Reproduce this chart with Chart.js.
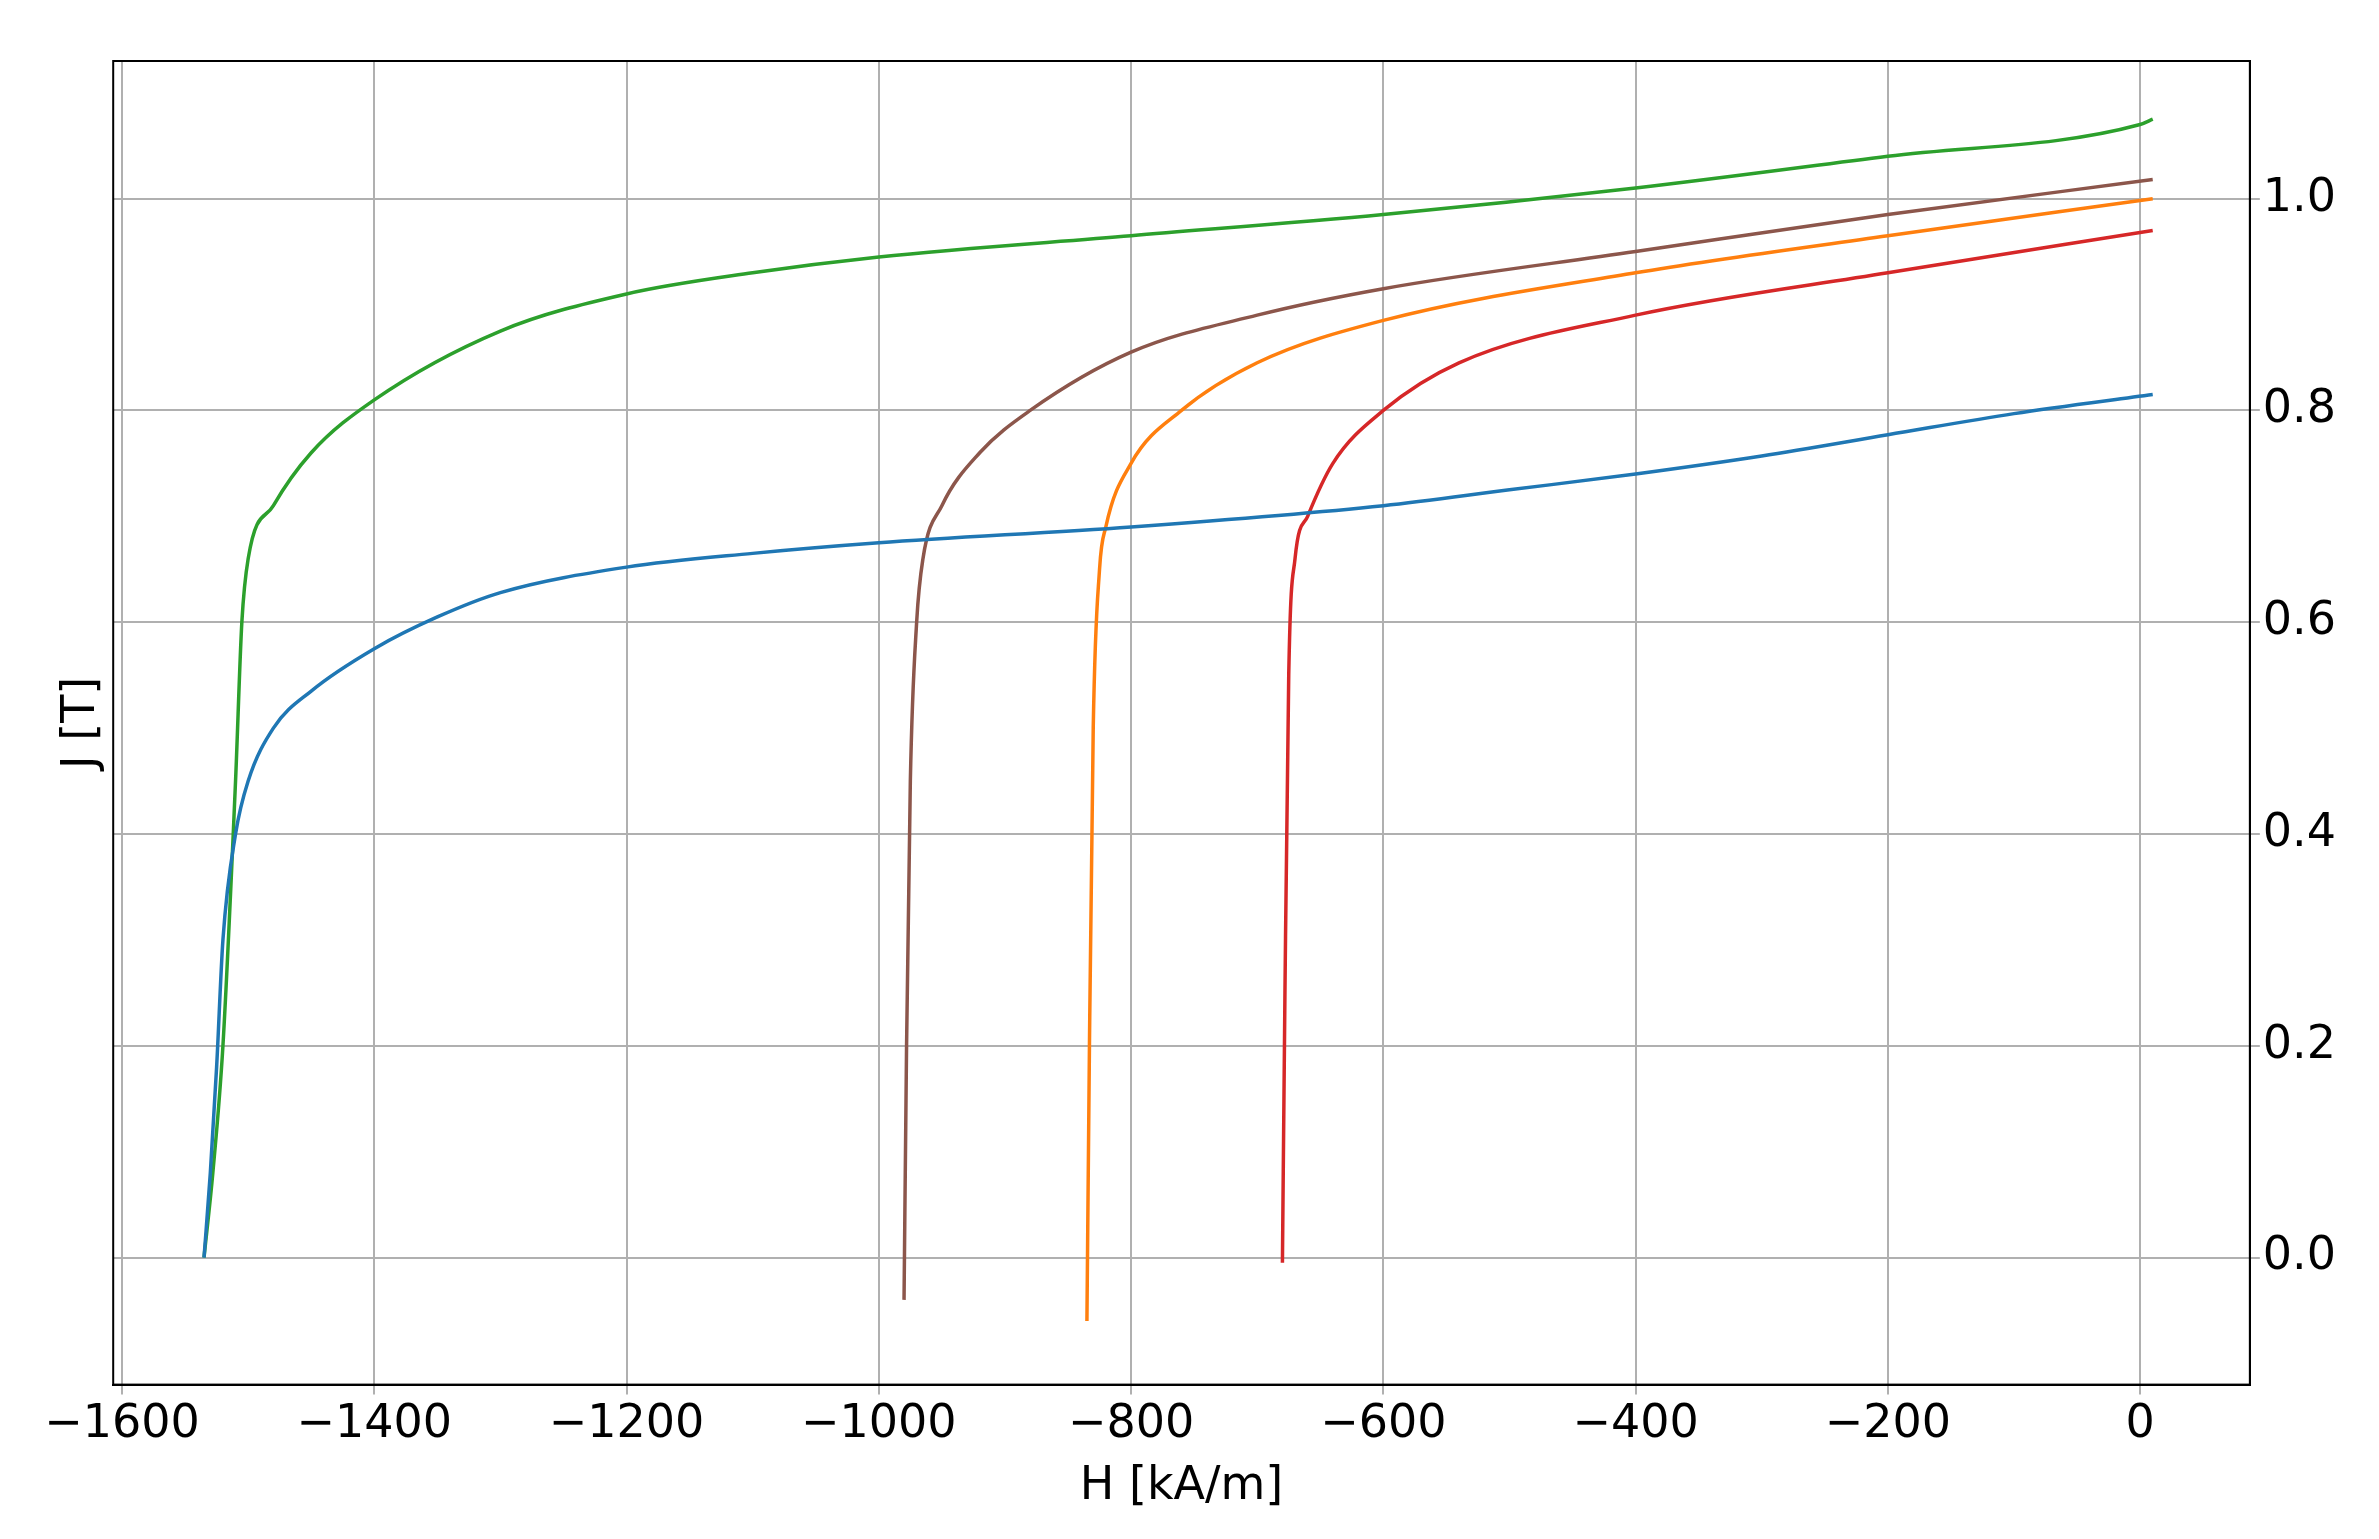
<!DOCTYPE html>
<html><head><meta charset="utf-8">
<script src="https://cdn.jsdelivr.net/npm/chart.js@4/dist/chart.umd.min.js"></script>
<style>body{margin:0;background:#fff}</style></head>
<body><canvas id="c" width="2379" height="1539"></canvas>
<script>
const blueH=[-1535,-1530,-1525,-1520,-1510,-1500,-1480,-1450,-1400,-1350,-1300,-1200,-1100,-1000,-800,-600,-500,-400,-300,-200,-100,10];
const blueJ=[0,0.08,0.18,0.3,0.4,0.45,0.5,0.535,0.575,0.605,0.628,0.652,0.665,0.675,0.69,0.71,0.725,0.74,0.757,0.777,0.797,0.815];
const greenH=[-1535,-1528,-1520,-1510,-1505,-1500,-1480,-1450,-1400,-1300,-1200,-1100,-1000,-800,-600,-400,-200,0,10];
const greenJ=[0,0.08,0.2,0.45,0.6,0.66,0.71,0.76,0.81,0.875,0.91,0.93,0.945,0.965,0.985,1.01,1.04,1.07,1.075];
const brownH=[-980,-978,-975,-970,-965,-950,-920,-880,-800,-700,-600,-400,-200,10];
const brownJ=[-0.04,0.2,0.45,0.6,0.66,0.71,0.76,0.80,0.855,0.89,0.915,0.95,0.985,1.018];
const orangeH=[-835,-833,-830,-825,-820,-800,-760,-700,-600,-400,-200,10];
const orangeJ=[-0.06,0.2,0.5,0.65,0.69,0.75,0.80,0.845,0.885,0.93,0.965,1.0];
const redH=[-680,-678,-675,-670,-660,-640,-600,-540,-400,-200,10];
const redJ=[-0.005,0.25,0.55,0.66,0.70,0.75,0.80,0.845,0.89,0.93,0.97];
const series=[[blueH,blueJ,'#1f77b4'],[greenH,greenJ,'#2ca02c'],[brownH,brownJ,'#8c564b'],[orangeH,orangeJ,'#ff7f0e'],[redH,redJ,'#d62728']];
const F='DejaVu Sans';
const fmt=v=>String(v).replace('-','\u2212');
new Chart(document.getElementById('c'),{type:'line',
data:{datasets:series.map(([h,j,c])=>({data:h.map((x,i)=>({x,y:j[i]})),borderColor:c,borderWidth:3.5,pointRadius:0,cubicInterpolationMode:'monotone',fill:false}))},
options:{responsive:false,animation:false,devicePixelRatio:1,
layout:{padding:{left:50,right:40,top:61,bottom:20}},
plugins:{legend:{display:false},tooltip:{enabled:false}},
scales:{
x:{type:'linear',min:-1607,max:87,
afterBuildTicks:a=>{a.ticks=[];for(let v=-1600;v<=0;v+=200)a.ticks.push({value:v});},
ticks:{font:{family:F,size:46},color:'#000',callback:v=>fmt(v),maxRotation:0},
grid:{color:'#b0b0b0',lineWidth:2,tickLength:10},border:{color:'#000',width:2},
title:{display:true,text:'H [kA/m]',font:{family:F,size:46},color:'#000'}},
y:{type:'linear',position:'right',min:-0.12,max:1.13,
afterBuildTicks:a=>{a.ticks=[];for(let v=0;v<=5;v++)a.ticks.push({value:v*0.2});},
ticks:{font:{family:F,size:46},color:'#000',callback:v=>v.toFixed(1)},
grid:{color:'#b0b0b0',lineWidth:2,tickLength:10},border:{color:'#000',width:2}},
y2:{type:'linear',position:'left',min:0,max:1,ticks:{display:false},grid:{display:false,drawTicks:false},border:{display:false},
title:{display:true,text:'J [T]',font:{family:F,size:46},color:'#000'}}
}},
plugins:[{id:'frame',afterDraw(c){const a=c.chartArea,x=c.ctx;x.save();x.strokeStyle='#000';x.lineWidth=2;x.strokeRect(a.left,a.top,a.right-a.left,a.bottom-a.top);x.restore();}}]
});
</script></body></html>
